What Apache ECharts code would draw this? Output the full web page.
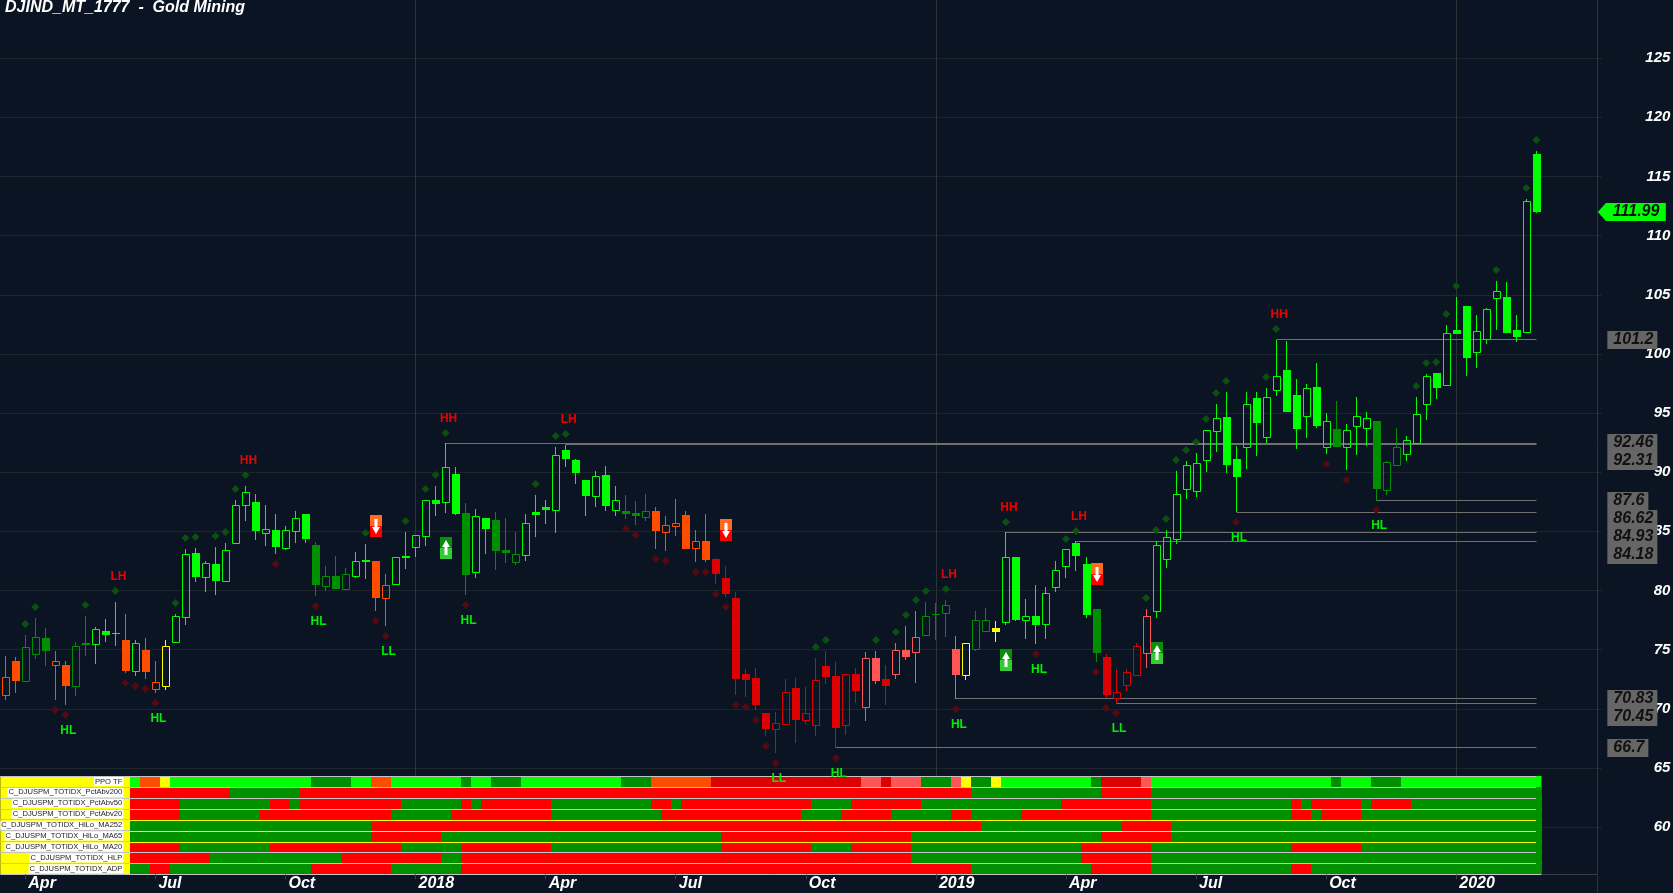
<!DOCTYPE html>
<html>
<head>
<meta charset="utf-8">
<title>DJIND_MT_1777 - Gold Mining</title>
<script src="https://cdn.jsdelivr.net/npm/echarts@6/dist/echarts.min.js"></script>
<style>
    html, body { margin: 0; padding: 0; background: #0a1422; }
    #chart { width: 1673px; height: 893px; }
</style>
</head>
<body>
<div id="chart"></div>
<script>
const chartTitle = 'DJIND_MT_1777  -  Gold Mining';

// quarter labels, first one sits on bar 2 and then every 13 bars
const quarterLabels = ['Apr', 'Jul', 'Oct', '2018', 'Apr', 'Jul', 'Oct', '2019', 'Apr', 'Jul', 'Oct', '2020'];

const opens = [
    71.19, 74.04, 72.37, 74.66, 75.98, 73.73, 73.70, 71.95, 75.52, 75.50,
    76.55, 76.38, 75.79, 73.22, 74.97, 71.70, 71.95, 75.67, 77.78, 83.17,
    81.17, 82.24, 80.83, 84.04, 87.25, 87.48, 84.88, 85.12, 83.62, 85.05,
    86.47, 83.85, 80.38, 81.23, 80.15, 81.25, 82.55, 82.49, 79.39, 80.57,
    82.92, 83.70, 84.63, 87.65, 87.51, 89.85, 86.55, 81.59, 86.13, 85.96,
    83.42, 82.43, 83.03, 86.64, 87.06, 86.83, 91.87, 91.03, 89.34, 88.01,
    89.76, 86.83, 86.72, 86.55, 86.24, 86.72, 84.97, 85.48, 86.38, 83.62,
    84.18, 82.66, 81.06, 79.37, 72.94, 72.60, 69.64, 68.32, 68.74, 71.76,
    69.08, 68.66, 73.62, 72.77, 68.66, 72.94, 70.18, 74.29, 72.52, 72.97,
    74.97, 74.83, 76.27, 78.01, 78.12, 75.05, 72.88, 75.05, 76.60, 76.83,
    77.36, 82.83, 77.53, 77.84, 77.19, 80.32, 82.10, 84.02, 82.24, 78.44,
    74.38, 70.94, 72.01, 72.86, 74.74, 78.27, 82.69, 84.38, 88.61, 88.43,
    91.06, 93.51, 94.67, 91.12, 92.09, 96.27, 93.00, 96.97, 98.64, 96.52,
    94.78, 97.20, 92.15, 93.65, 92.15, 93.93, 93.76, 94.33, 88.52, 90.63,
    91.56, 92.49, 95.74, 98.38, 97.37, 102.02, 104.05, 100.19, 101.28, 104.75,
    104.81, 102.02, 101.87, 116.90
];
const highs = [
    74.46, 74.38, 76.24, 77.68, 76.83, 74.89, 74.04, 75.65, 77.85, 76.91,
    77.59, 79.03, 78.01, 75.80, 75.98, 74.04, 75.82, 78.01, 83.51, 83.59,
    82.47, 83.68, 84.02, 87.65, 88.83, 88.16, 87.23, 86.47, 85.45, 86.72,
    86.47, 84.07, 82.07, 82.92, 81.90, 83.25, 83.93, 82.49, 81.39, 82.81,
    84.94, 84.67, 87.62, 88.83, 92.46, 90.44, 87.40, 86.89, 86.13, 86.64,
    86.13, 84.94, 86.47, 88.07, 87.65, 92.13, 92.31, 91.12, 89.34, 90.10,
    90.52, 88.83, 88.07, 87.56, 88.16, 87.06, 86.30, 87.73, 86.72, 85.12,
    86.47, 82.75, 82.07, 79.87, 73.36, 73.45, 69.64, 69.73, 72.52, 72.60,
    71.84, 74.29, 74.89, 73.96, 72.92, 73.45, 74.80, 74.89, 73.70, 75.56,
    77.00, 78.27, 79.03, 78.94, 79.20, 76.15, 75.52, 78.27, 78.52, 77.42,
    84.93, 82.83, 79.28, 80.46, 80.29, 82.49, 83.48, 84.18, 82.83, 78.44,
    74.63, 73.36, 73.36, 75.56, 78.44, 84.18, 85.12, 90.10, 90.95, 91.62,
    93.54, 95.77, 96.78, 92.21, 96.78, 96.78, 97.12, 101.20, 101.09, 97.88,
    97.46, 99.23, 95.00, 96.02, 94.07, 96.36, 95.09, 94.33, 90.95, 93.74,
    93.06, 96.36, 98.30, 98.38, 102.44, 104.81, 104.05, 103.29, 103.88, 106.16,
    106.07, 103.29, 113.09, 117.15
];
const lows = [
    70.74, 71.34, 72.37, 74.21, 73.64, 70.74, 70.32, 71.11, 74.46, 73.79,
    75.65, 75.31, 73.03, 72.77, 72.52, 71.34, 71.59, 75.67, 77.08, 80.72,
    79.87, 79.62, 80.83, 84.04, 85.87, 84.27, 83.76, 83.09, 83.42, 84.02,
    84.02, 79.53, 79.96, 80.13, 80.15, 81.06, 80.97, 78.27, 77.00, 80.57,
    81.82, 82.83, 83.76, 86.30, 86.55, 86.38, 79.62, 81.06, 83.09, 81.73,
    82.32, 82.16, 82.49, 84.52, 85.62, 84.86, 90.44, 89.00, 86.30, 87.06,
    86.72, 86.30, 86.04, 85.54, 85.87, 83.51, 83.34, 84.61, 83.51, 82.41,
    82.41, 80.55, 79.45, 71.17, 71.00, 69.90, 67.70, 66.26, 68.74, 67.11,
    68.72, 67.70, 72.10, 66.70, 67.78, 70.49, 68.97, 72.10, 70.32, 72.52,
    74.12, 72.18, 76.27, 75.82, 76.07, 70.83, 72.43, 74.89, 76.49, 75.65,
    77.08, 77.42, 75.90, 75.48, 75.90, 79.87, 81.06, 81.65, 77.67, 73.96,
    70.91, 70.45, 71.50, 72.77, 73.45, 77.67, 81.90, 83.93, 87.73, 87.90,
    90.02, 91.71, 89.93, 86.62, 90.27, 91.37, 92.47, 96.44, 95.09, 91.96,
    92.89, 93.74, 91.54, 92.13, 90.19, 91.45, 92.21, 87.60, 88.07, 90.55,
    90.95, 92.38, 94.41, 96.19, 97.29, 101.68, 98.13, 98.81, 100.84, 102.02,
    101.76, 101.00, 101.87, 111.91
];
const closes = [
    72.66, 72.35, 75.20, 76.04, 74.89, 74.01, 71.93, 75.28, 75.39, 76.72,
    76.24, 76.35, 73.20, 75.52, 73.11, 72.24, 75.28, 77.82, 83.06, 81.14,
    82.30, 80.80, 83.40, 87.20, 88.30, 85.03, 85.17, 83.68, 85.09, 86.10,
    84.35, 80.46, 81.20, 80.13, 81.37, 82.47, 82.41, 79.37, 80.44, 82.81,
    82.75, 84.67, 87.62, 87.31, 90.41, 86.47, 81.31, 86.27, 85.20, 83.34,
    83.17, 83.06, 85.68, 86.38, 86.81, 91.43, 91.12, 89.93, 87.99, 89.65,
    87.14, 87.62, 86.47, 86.30, 86.70, 85.03, 85.51, 85.68, 83.51, 84.16,
    82.58, 81.39, 79.70, 72.52, 72.43, 70.32, 68.29, 68.77, 71.39, 69.05,
    69.62, 72.41, 72.69, 68.38, 72.92, 71.50, 74.27, 72.35, 71.93, 74.94,
    74.38, 76.04, 77.82, 77.95, 78.75, 72.86, 75.52, 77.48, 77.48, 76.49,
    82.81, 77.50, 77.82, 77.08, 79.76, 81.71, 83.48, 82.92, 77.93, 74.72,
    71.17, 71.39, 73.09, 75.28, 77.82, 83.82, 84.50, 88.13, 90.58, 90.75,
    93.54, 94.56, 90.61, 89.59, 95.74, 94.16, 96.33, 98.11, 95.09, 93.65,
    97.09, 93.90, 94.30, 92.13, 93.54, 94.72, 94.56, 88.58, 90.84, 92.10,
    92.70, 94.89, 98.11, 97.12, 101.74, 101.68, 99.65, 101.91, 103.77, 105.29,
    101.76, 101.43, 112.90, 111.99
];

// g bright green, d dark green, o orange, y yellow, r red, p pink
const barStyles = 'oodddooddg' + 'ggogooyggg' + 'gggggggggg' + 'gddddggoog' + 'ggggggdggd' +
    'ddgggggggg' + 'ggdddooooo' + 'orrrrrrrrr' + 'rrrrrrpprp' + 'ppdddpyddy' +
    'gggggggggd' + 'rrrrpggggg' + 'gggggggggg' + 'gggdgggddd' + 'gggggggggg' + 'gggg';

const greenDots = [
    [2, 77.17], [3, 78.61], [8, 78.77], [11, 79.96], [17, 78.94], [18, 84.44], [19, 84.52], [21, 84.61],
    [22, 84.94], [23, 88.58], [24, 89.76], [36, 84.86], [40, 85.87], [42, 88.58], [43, 89.76], [44, 93.31],
    [53, 89.00], [55, 93.06], [56, 93.23], [81, 75.22], [82, 75.81], [87, 75.81], [89, 76.49], [90, 77.93],
    [91, 79.20], [92, 79.96], [94, 80.13], [100, 85.79], [106, 84.35], [107, 85.03], [114, 79.37], [115, 85.12],
    [116, 86.04], [117, 91.03], [118, 91.87], [119, 92.55], [120, 94.50], [121, 96.69], [122, 97.71], [126, 98.05],
    [127, 102.10], [141, 97.29], [142, 99.23], [143, 99.31], [144, 103.37], [145, 105.74], [149, 107.09],
    [152, 114.02], [153, 118.08]
];
const redDots = [
    [5, 69.90], [6, 69.47], [12, 72.18], [13, 71.93], [14, 71.67], [15, 70.49], [27, 82.24], [31, 78.69],
    [37, 77.42], [38, 76.15], [46, 78.77], [62, 85.20], [63, 84.69], [65, 82.66], [66, 82.49], [69, 81.56],
    [70, 81.56], [71, 79.70], [72, 78.61], [73, 70.32], [74, 70.15], [75, 69.05], [76, 66.86], [77, 65.42],
    [83, 65.84], [95, 69.98], [103, 74.63], [109, 73.11], [110, 70.07], [111, 69.64], [123, 85.79],
    [132, 90.69], [134, 89.34], [137, 86.80]
];

const pivotTexts = ['HL', 'LH', 'HL', 'HH', 'HL', 'LL', 'HH', 'HL', 'LH', 'LL', 'HL', 'LH', 'HL', 'HH', 'HL', 'LH', 'LL', 'HL', 'HH', 'HL'];
const pivotBars = [6, 11, 15, 24, 31, 38, 44, 46, 56, 77, 83, 94, 95, 100, 103, 107, 111, 123, 127, 137];
const pivotPrices = [68.12, 81.14, 69.14, 90.95, 77.34, 74.80, 94.50, 77.42, 94.41, 64.07, 64.49, 81.31, 68.63, 86.97, 73.28, 86.21, 68.29, 84.44, 103.29, 85.45];

const upSignals = [[44, 83.59], [100, 74.12], [115, 74.72]];
const downSignals = [[37, 85.45], [72, 85.11], [109, 81.39]];

// support / resistance levels, sorted high to low, with the bar each one starts on
const levelPrices = [101.2, 92.46, 92.31, 87.6, 86.62, 84.93, 84.18, 70.83, 70.45, 66.7];
const levelBars = [127, 44, 56, 137, 123, 100, 107, 95, 111, 83];
const lastPrice = 111.99;

const rowNames = [
    'PPO TF',
    'C_DJUSPM_TOTIDX_PctAbv200',
    'C_DJUSPM_TOTIDX_PctAbv50',
    'C_DJUSPM_TOTIDX_PctAbv20',
    'C_DJUSPM_TOTIDX_HiLo_MA252',
    'C_DJUSPM_TOTIDX_HiLo_MA65',
    'C_DJUSPM_TOTIDX_HiLo_MA20',
    'C_DJUSPM_TOTIDX_HLP',
    'C_DJUSPM_TOTIDX_ADP'
];
// [first bar, r(ed) or d(ark green)], each run lasts until the next one starts
const rowPctAbv200 = [[13, 'r'], [23, 'd'], [30, 'r'], [97, 'd'], [110, 'r'], [115, 'd']];
const rowPctAbv50 = [[13, 'r'], [18, 'd'], [27, 'r'], [29, 'd'], [30, 'r'], [40, 'd'], [46, 'r'], [47, 'd'], [48, 'r'], [55, 'd'], [65, 'r'], [67, 'd'], [68, 'r'], [81, 'd'], [85, 'r'], [92, 'd'], [106, 'r'], [115, 'd'], [129, 'r'], [130, 'd'], [131, 'r'], [136, 'd'], [137, 'r'], [141, 'd']];
const rowPctAbv20 = [[13, 'r'], [18, 'd'], [26, 'r'], [39, 'd'], [45, 'r'], [55, 'd'], [66, 'r'], [80, 'd'], [84, 'r'], [89, 'd'], [95, 'r'], [97, 'd'], [102, 'r'], [115, 'd'], [129, 'r'], [131, 'd'], [132, 'r'], [136, 'd']];
const rowMA252 = [[13, 'd'], [37, 'r'], [98, 'd'], [112, 'r'], [117, 'd']];
const rowMA65 = [[13, 'd'], [37, 'r'], [44, 'd'], [72, 'r'], [91, 'd'], [110, 'r'], [117, 'd']];
const rowMA20 = [[13, 'r'], [18, 'd'], [27, 'r'], [40, 'd'], [46, 'r'], [55, 'd'], [72, 'r'], [81, 'd'], [85, 'r'], [91, 'd'], [108, 'r'], [115, 'd'], [129, 'r'], [136, 'd']];
const rowHLP = [[13, 'r'], [21, 'd'], [34, 'r'], [44, 'd'], [46, 'r'], [91, 'd'], [108, 'r'], [115, 'd']];
const rowADP = [[13, 'd'], [15, 'r'], [17, 'd'], [31, 'r'], [39, 'd'], [46, 'r'], [97, 'd'], [109, 'r'], [115, 'd'], [129, 'r'], [131, 'd']];

const barColors = { g: '#00ff00', d: '#008f00', o: '#ff4d00', y: '#ffff00', r: '#dd0000', p: '#ff5555' };
const cellColors = { r: '#ff0000', d: '#009000' };
const BAR_COUNT = opens.length;
const SLOT_COUNT = 160;
const FONT = '"Liberation Sans", Arial, sans-serif';

function slotNames(count) {
    var names = [];
    for (var i = 0; i < count; i++) {
        names.push((i - 2) % 13 === 0 ? quarterLabels[(i - 2) / 13] : '');
    }
    return names;
}

function isYearBar(index) {
    return /^\d+$/.test(quarterLabels[(index - 2) / 13] || '');
}

// PPO TF row just follows the colour of the bars
function ppoRuns() {
    var runs = [];
    for (var i = 13; i < BAR_COUNT; i++) {
        if (i === 13 || barStyles[i] !== barStyles[i - 1]) {
            runs.push([i, barStyles[i]]);
        }
    }
    return runs;
}

function buildCells() {
    var rows = [ppoRuns(), rowPctAbv200, rowPctAbv50, rowPctAbv20, rowMA252, rowMA65, rowMA20, rowHLP, rowADP];
    var cells = [];
    rows.forEach(function(runs, rowIndex) {
        runs.forEach(function(run, k) {
            var end = k + 1 < runs.length ? runs[k + 1][0] : BAR_COUNT;
            var palette = rowIndex === 0 ? barColors : cellColors;
            cells.push({ value: [run[0], rowIndex, end], color: palette[run[1]] });
        });
    });
    return cells;
}

function renderCandle(params, api) {
    var i = api.value(0);
    var style = barStyles[i];
    var color = barColors[style];
    var o = api.coord([i, api.value(1)]);
    var h = api.coord([i, api.value(2)]);
    var l = api.coord([i, api.value(3)]);
    var c = api.coord([i, api.value(4)]);
    var x = Math.floor(o[0]) + 0.5;
    var top = Math.round(Math.min(o[1], c[1]));
    var bottom = Math.round(Math.max(o[1], c[1]));
    var hollow = c[1] < o[1] && bottom - top > 0;
    var children = [
        { type: 'line', shape: { x1: x, y1: Math.round(h[1]), x2: x, y2: top }, style: { stroke: color, lineWidth: 1 } },
        { type: 'line', shape: { x1: x, y1: bottom, x2: x, y2: Math.round(l[1]) }, style: { stroke: color, lineWidth: 1 } }
    ];
    if (hollow) {
        children.push({
            type: 'rect',
            shape: { x: x - 3, y: top + 0.5, width: 7, height: bottom - top },
            style: { fill: 'none', stroke: color, lineWidth: 1 }
        });
    } else {
        children.push({
            type: 'rect',
            shape: { x: x - 3.5, y: top, width: 8, height: Math.max(bottom - top, 1) },
            style: { fill: color }
        });
    }
    return { type: 'group', children: children };
}

function renderCell(params, api) {
    var start = api.value(0);
    var row = api.value(1);
    var end = api.value(2);
    var p = api.coord([start, row]);
    var size = api.size([1, 1]);
    var cell = params.context.cells[params.dataIndex];
    var x = Math.round(p[0] - size[0] / 2);
    var x2 = Math.round(p[0] - size[0] / 2 + size[0] * (end - start));
    var y = Math.round(p[1] - size[1] / 2) + 1;
    var y2 = Math.round(p[1] + size[1] / 2);
    var children = [{
        type: 'rect',
        shape: { x: x, y: y, width: x2 - x, height: y2 - y },
        style: { fill: cell.color }
    }];
    // the separators stop short of the last column
    if (end === BAR_COUNT) {
        children.push({
            type: 'rect',
            shape: { x: x2 - 5, y: y - 1, width: 5, height: y2 - y + 1 },
            style: { fill: cell.color }
        });
    }
    return { type: 'group', children: children };
}

function renderPivot(params, api) {
    var p = api.coord([pivotBars[params.dataIndex], pivotPrices[params.dataIndex]]);
    var text = pivotTexts[params.dataIndex];
    return {
        type: 'text',
        style: {
            x: p[0] + 3,
            y: p[1],
            text: text,
            fill: text[1] === 'H' ? '#ee0000' : '#00ee00',
            font: 'bold 12px ' + FONT,
            align: 'center',
            verticalAlign: 'middle'
        }
    };
}

function renderSignal(up) {
    return function(params, api) {
        var p = api.coord([api.value(0), api.value(1)]);
        var x = Math.floor(p[0]) + 1;
        var y = Math.round(p[1]);
        var dir = up ? -1 : 1;
        var arrow = [
            [x, y + dir * 8], [x + 4, y + dir * 1], [x + 1.5, y + dir * 1], [x + 1.5, y - dir * 7],
            [x - 1.5, y - dir * 7], [x - 1.5, y + dir * 1], [x - 4, y + dir * 1]
        ];
        return {
            type: 'group',
            children: [
                { type: 'rect', shape: { x: x - 6, y: y - 11, width: 12, height: 11 }, style: { fill: up ? '#0a8f0a' : '#ff6a1e' } },
                { type: 'rect', shape: { x: x - 6, y: y, width: 12, height: 11 }, style: { fill: up ? '#33cc33' : '#ff0000' } },
                { type: 'polygon', shape: { points: arrow }, style: { fill: '#ffffff' } }
            ]
        };
    };
}

function renderLevel(params, api) {
    var start = api.coord([api.value(0), api.value(1)]);
    var end = api.coord([BAR_COUNT - 1, api.value(1)]);
    var y = Math.floor(start[1]) + 0.5;
    return {
        type: 'line',
        shape: { x1: Math.floor(start[0]) + 0.5, y1: y, x2: Math.floor(end[0]) + 0.5, y2: y },
        style: { stroke: '#707070', lineWidth: 1 }
    };
}

// the price tags get pushed down when they would overlap the one above
function renderLevelTag(params, api) {
    var y = -Infinity;
    for (var k = 0; k <= params.dataIndex; k++) {
        y = Math.max(api.coord([0, levelPrices[k]])[1], y + 18);
    }
    y = Math.round(y);
    var text = String(levelPrices[params.dataIndex]);
    var left = params.coordSys.x + params.coordSys.width + 6;
    return {
        type: 'group',
        children: [
            { type: 'rect', shape: { x: left, y: y - 9, width: text.length === 5 ? 50 : 41, height: 18 }, style: { fill: '#666666' } },
            { type: 'text', style: { x: left + 6, y: y, text: text, fill: '#111111', font: 'italic bold 16px ' + FONT, verticalAlign: 'middle' } }
        ]
    };
}

function renderLastPrice(params, api) {
    var y = Math.round(api.coord([0, api.value(0)])[1]);
    var left = params.coordSys.x + params.coordSys.width - 3.5;
    return {
        type: 'group',
        children: [
            {
                type: 'polygon',
                shape: { points: [[left, y], [left + 8, y - 9], [left + 68, y - 9], [left + 68, y + 9], [left + 8, y + 9]] },
                style: { fill: '#00ff00' }
            },
            { type: 'text', style: { x: left + 15, y: y, text: String(api.value(0)), fill: '#111111', font: 'italic bold 16px ' + FONT, verticalAlign: 'middle' } }
        ]
    };
}

var chart = echarts.init(document.getElementById('chart'), null, { renderer: 'canvas' });
var cells = buildCells();
var candleData = opens.map(function(o, i) {
    return [i, o, highs[i], lows[i], closes[i]];
});
var axisFont = { fontFamily: FONT, fontStyle: 'italic', fontWeight: 'bold', color: '#ffffff' };

chart.setOption({
    animation: false,
    backgroundColor: '#0a1422',
    title: {
        text: chartTitle,
        left: 5,
        top: 0,
        padding: 0,
        textStyle: { fontFamily: FONT, fontStyle: 'italic', fontWeight: 'bold', fontSize: 16, color: '#ffffff' }
    },
    graphic: [
        { type: 'line', silent: true, z: 1, shape: { x1: 0, y1: 874.5, x2: 1597.5, y2: 874.5 }, style: { stroke: '#3a3f44', lineWidth: 1 } },
        { type: 'line', silent: true, z: 1, shape: { x1: 1597.5, y1: 0, x2: 1597.5, y2: 893 }, style: { stroke: '#2e3338', lineWidth: 1 } }
    ],
    grid: [
        { left: 0.3, width: 1601.04, top: 58.15, height: 768.95, outerBoundsMode: 'none' },
        { left: 0.3, width: 1601.04, top: 0, height: 874, outerBoundsMode: 'none' },
        { left: 0.3, width: 1541, top: 776, height: 98.3, show: true, backgroundColor: '#ffff00', borderWidth: 0, z: 1, outerBoundsMode: 'none' }
    ],
    xAxis: [
        { type: 'category', gridIndex: 0, data: slotNames(SLOT_COUNT), show: false },
        {
            type: 'category',
            gridIndex: 1,
            data: slotNames(SLOT_COUNT),
            axisLine: { show: false },
            axisTick: { show: false },
            axisLabel: { show: false },
            splitLine: {
                show: true,
                alignWithLabel: true,
                interval: function(index) { return isYearBar(index); },
                lineStyle: { color: '#2e3338', width: 1 }
            }
        },
        {
            type: 'category',
            gridIndex: 2,
            z: 1,
            data: slotNames(BAR_COUNT),
            axisLine: { show: false },
            axisTick: {
                show: true,
                alignWithLabel: true,
                length: 5,
                interval: function(index, value) { return value !== ''; },
                lineStyle: { color: '#3a3f44' }
            },
            axisLabel: Object.assign({}, axisFont, {
                show: true,
                fontSize: 16,
                align: 'left',
                margin: 1,
                padding: [0, 0, 0, 3],
                interval: function(index, value) { return value !== ''; }
            })
        }
    ],
    yAxis: [
        {
            type: 'value',
            gridIndex: 0,
            position: 'right',
            min: 60,
            max: 125,
            interval: 5,
            axisLine: { show: false },
            axisTick: { show: false },
            axisLabel: Object.assign({}, axisFont, { fontSize: 15, align: 'right', margin: 69 }),
            splitLine: { show: true, lineStyle: { color: '#30383a', type: 'dotted', width: 1 } }
        },
        { type: 'value', gridIndex: 1, min: 0, max: 1, show: false },
        {
            type: 'category',
            gridIndex: 2,
            z: 1,
            inverse: true,
            data: rowNames,
            axisLine: { show: false },
            axisTick: { show: false },
            axisLabel: {
                show: true,
                inside: true,
                interval: 0,
                align: 'right',
                margin: 123,
                fontFamily: FONT,
                fontSize: 7.6,
                color: '#222222',
                backgroundColor: '#ffffff',
                padding: [1, 1, 0, 1]
            },
            splitLine: { show: true, interval: 0, lineStyle: { color: '#c4c4c4', width: 1 } }
        }
    ],
    series: [
        {
            name: 'cells',
            type: 'custom',
            xAxisIndex: 2,
            yAxisIndex: 2,
            z: 2,
            silent: true,
            data: cells.map(function(c) { return c.value; }),
            encode: { x: 0, y: 1 },
            renderItem: function(params, api) {
                params.context.cells = cells;
                return renderCell(params, api);
            }
        },
        {
            name: 'levels',
            type: 'custom',
            xAxisIndex: 0,
            yAxisIndex: 0,
            z: 3,
            silent: true,
            data: levelPrices.map(function(p, i) { return [levelBars[i], p]; }),
            encode: { x: 0, y: 1 },
            renderItem: renderLevel
        },
        {
            name: 'candles',
            type: 'custom',
            xAxisIndex: 0,
            yAxisIndex: 0,
            z: 4,
            silent: true,
            data: candleData,
            encode: { x: 0, y: [1, 2, 3, 4] },
            renderItem: renderCandle
        },
        {
            name: 'greenDots',
            type: 'scatter',
            xAxisIndex: 0,
            yAxisIndex: 0,
            z: 4,
            silent: true,
            symbol: 'diamond',
            symbolSize: 8,
            itemStyle: { color: '#0b5010', opacity: 1 },
            data: greenDots
        },
        {
            name: 'redDots',
            type: 'scatter',
            xAxisIndex: 0,
            yAxisIndex: 0,
            z: 4,
            silent: true,
            symbol: 'diamond',
            symbolSize: 8,
            itemStyle: { color: '#550a12', opacity: 1 },
            data: redDots
        },
        {
            name: 'upSignals',
            type: 'custom',
            xAxisIndex: 0,
            yAxisIndex: 0,
            z: 5,
            silent: true,
            data: upSignals,
            encode: { x: 0, y: 1 },
            renderItem: renderSignal(true)
        },
        {
            name: 'downSignals',
            type: 'custom',
            xAxisIndex: 0,
            yAxisIndex: 0,
            z: 5,
            silent: true,
            data: downSignals,
            encode: { x: 0, y: 1 },
            renderItem: renderSignal(false)
        },
        {
            name: 'pivots',
            type: 'custom',
            xAxisIndex: 0,
            yAxisIndex: 0,
            z: 6,
            silent: true,
            data: pivotBars.map(function(b, i) { return [b, pivotPrices[i]]; }),
            encode: { x: 0, y: 1 },
            renderItem: renderPivot
        },
        {
            name: 'levelTags',
            type: 'custom',
            xAxisIndex: 0,
            yAxisIndex: 0,
            z: 6,
            silent: true,
            data: levelPrices.map(function(p) { return [SLOT_COUNT - 1, p]; }),
            encode: { x: 0, y: 1 },
            renderItem: renderLevelTag
        },
        {
            name: 'lastPrice',
            type: 'custom',
            xAxisIndex: 0,
            yAxisIndex: 0,
            z: 6,
            silent: true,
            data: [[lastPrice]],
            encode: { y: 0 },
            renderItem: renderLastPrice
        }
    ]
});
</script>
</body>
</html>
